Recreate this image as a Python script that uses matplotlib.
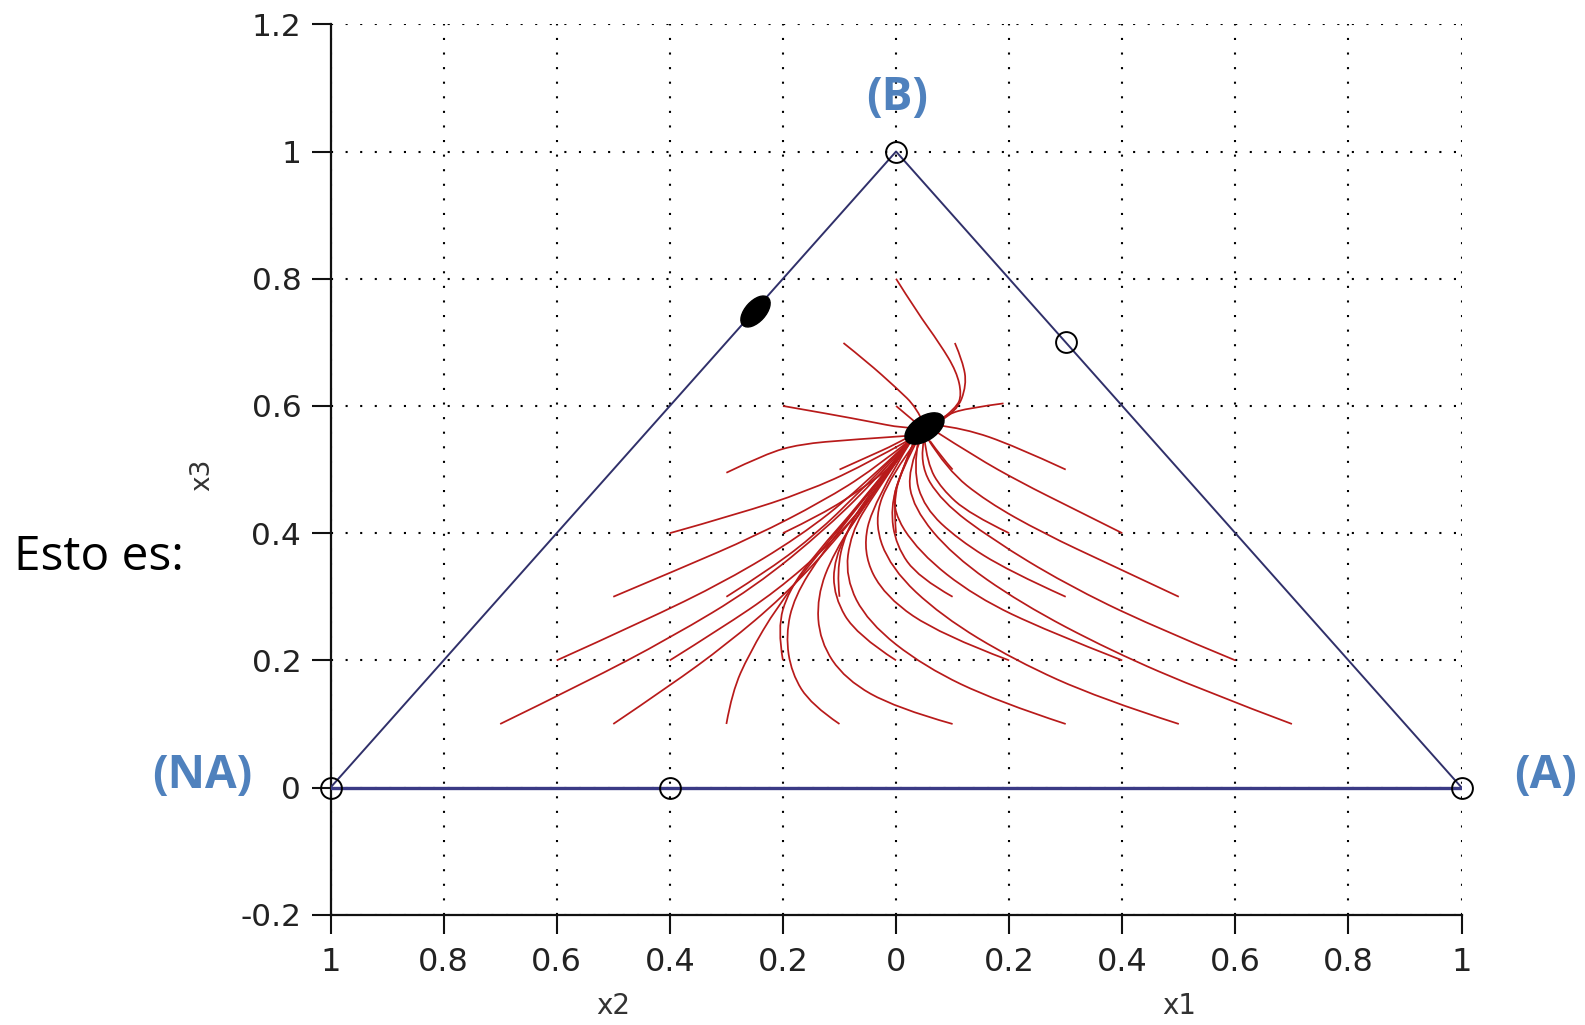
import matplotlib
matplotlib.use("Agg")
import matplotlib.pyplot as plt
from matplotlib import font_manager
from matplotlib.path import Path
from matplotlib.patches import PathPatch
from matplotlib.markers import MarkerStyle
from matplotlib.transforms import Affine2D

# ---------------- data ----------------
tri_x = [-1.0, 0.0, 1.0]
tri_y = [0.0, 1.0, 0.0]

unstable_x = [-1.0, -0.4, 1.0, 0.0, 0.3]
unstable_y = [0.0, 0.0, 0.0, 1.0, 0.7]

stable_center = (0.05, 0.565)
stable_edge = (-0.25, 0.75)

# trajectories grouped by starting row (x3 of start point)
traj_row01 = [
    [(-0.70, 0.10), (-0.55, 0.165), (-0.40, 0.235), (-0.25, 0.315), (-0.12, 0.41), (-0.03, 0.49), (0.03, 0.55)],
    [(-0.50, 0.10), (-0.40, 0.16), (-0.30, 0.225), (-0.20, 0.30), (-0.11, 0.385), (-0.03, 0.475), (0.03, 0.55)],
    [(-0.30, 0.10), (-0.29, 0.15), (-0.26, 0.21), (-0.21, 0.285), (-0.14, 0.365), (-0.06, 0.45), (0.03, 0.55)],
    [(-0.10, 0.10), (-0.15, 0.13), (-0.185, 0.18), (-0.195, 0.24), (-0.18, 0.30), (-0.13, 0.37), (-0.06, 0.45), (0.03, 0.55)],
    [(0.10, 0.10), (0.0, 0.125), (-0.09, 0.17), (-0.135, 0.23), (-0.14, 0.30), (-0.11, 0.37), (-0.05, 0.45), (0.03, 0.55)],
    [(0.30, 0.10), (0.18, 0.135), (0.05, 0.19), (-0.05, 0.26), (-0.09, 0.33), (-0.08, 0.40), (-0.04, 0.46), (0.03, 0.55)],
    [(0.50, 0.10), (0.36, 0.14), (0.21, 0.20), (0.08, 0.27), (-0.01, 0.345), (-0.04, 0.42), (-0.01, 0.49), (0.04, 0.55)],
    [(0.70, 0.10), (0.55, 0.15), (0.38, 0.215), (0.22, 0.29), (0.10, 0.365), (0.03, 0.44), (0.02, 0.50), (0.045, 0.55)],
]
traj_row02 = [
    [(-0.60, 0.20), (-0.45, 0.26), (-0.30, 0.325), (-0.17, 0.395), (-0.07, 0.465), (0.03, 0.55)],
    [(-0.40, 0.20), (-0.31, 0.25), (-0.21, 0.31), (-0.12, 0.38), (-0.04, 0.46), (0.03, 0.55)],
    [(-0.20, 0.20), (-0.21, 0.25), (-0.19, 0.31), (-0.14, 0.37), (-0.07, 0.44), (0.03, 0.55)],
    [(0.00, 0.20), (-0.07, 0.24), (-0.11, 0.30), (-0.11, 0.36), (-0.07, 0.43), (0.03, 0.55)],
    [(0.20, 0.20), (0.08, 0.24), (-0.02, 0.30), (-0.06, 0.37), (-0.04, 0.45), (0.03, 0.55)],
    [(0.40, 0.20), (0.27, 0.245), (0.14, 0.30), (0.04, 0.37), (-0.01, 0.44), (0.01, 0.50), (0.04, 0.55)],
    [(0.60, 0.20), (0.45, 0.255), (0.30, 0.32), (0.17, 0.39), (0.08, 0.45), (0.04, 0.51), (0.05, 0.55)],
]
traj_row03 = [
    [(-0.50, 0.30), (-0.38, 0.345), (-0.25, 0.395), (-0.13, 0.45), (-0.04, 0.50), (0.03, 0.55)],
    [(-0.30, 0.30), (-0.22, 0.345), (-0.14, 0.40), (-0.07, 0.46), (0.03, 0.55)],
    [(-0.10, 0.30), (-0.105, 0.34), (-0.09, 0.40), (-0.05, 0.46), (0.03, 0.55)],
    [(0.10, 0.30), (0.04, 0.33), (0.00, 0.38), (-0.01, 0.44), (0.01, 0.50), (0.035, 0.55)],
    [(0.30, 0.30), (0.20, 0.34), (0.11, 0.39), (0.05, 0.44), (0.03, 0.50), (0.04, 0.55)],
    [(0.50, 0.30), (0.38, 0.35), (0.26, 0.40), (0.16, 0.45), (0.09, 0.50), (0.055, 0.55)],
]
traj_row04 = [
    [(-0.40, 0.40), (-0.28, 0.43), (-0.16, 0.465), (-0.06, 0.505), (0.03, 0.55)],
    [(-0.20, 0.40), (-0.13, 0.43), (-0.06, 0.47), (0.00, 0.51), (0.03, 0.55)],
    [(0.00, 0.40), (-0.005, 0.45), (0.01, 0.50), (0.035, 0.55)],
    [(0.20, 0.40), (0.13, 0.43), (0.08, 0.47), (0.055, 0.51), (0.05, 0.55)],
    [(0.40, 0.40), (0.31, 0.44), (0.22, 0.48), (0.14, 0.52), (0.07, 0.56)],
]
traj_row05 = [
    [(-0.30, 0.495), (-0.23, 0.525), (-0.17, 0.54), (-0.08, 0.547), (0.02, 0.553)],
    [(-0.10, 0.50), (-0.05, 0.52), (0.00, 0.54), (0.03, 0.555)],
    [(0.10, 0.50), (0.08, 0.52), (0.06, 0.545)],
    [(0.30, 0.50), (0.21, 0.537), (0.12, 0.565), (0.07, 0.57)],
]
traj_row06 = [
    [(-0.20, 0.60), (-0.11, 0.586), (-0.05, 0.576), (0.013, 0.565), (0.04, 0.565)],
    [(0.00, 0.60), (0.02, 0.585), (0.04, 0.57)],
    [(0.19, 0.604), (0.13, 0.597), (0.09, 0.587), (0.07, 0.575)],
]
traj_row07 = [
    [(-0.093, 0.699), (-0.052, 0.67), (0.001, 0.628), (0.037, 0.597), (0.05, 0.57)],
    [(0.104, 0.699), (0.118, 0.67), (0.125, 0.633), (0.107, 0.59), (0.075, 0.575)],
]
traj_row08 = [
    [(0.00, 0.80), (0.036, 0.749), (0.078, 0.697), (0.107, 0.654), (0.116, 0.618), (0.107, 0.597), (0.075, 0.575)],
]

x_ticks = [-1.0, -0.8, -0.6, -0.4, -0.2, 0.0, 0.2, 0.4, 0.6, 0.8, 1.0]
x_ticklabels = ["1", "0.8", "0.6", "0.4", "0.2", "0", "0.2", "0.4", "0.6", "0.8", "1"]
y_ticks = [-0.2, 0.0, 0.2, 0.4, 0.6, 0.8, 1.0, 1.2]
y_ticklabels = ["-0.2", "0", "0.2", "0.4", "0.6", "0.8", "1", "1.2"]

# ---------------- fonts ----------------
names = {f.name for f in font_manager.fontManager.ttflist}
narrow = "Liberation Sans Narrow" if "Liberation Sans Narrow" in names else "DejaVu Sans"
plt.rcParams["font.family"] = ["DejaVu Sans"]

# ---------------- figure ----------------
W, H = 1585, 1025
fig = plt.figure(figsize=(W / 100, H / 100), dpi=100)
ax = fig.add_axes([330.5 / W, 1 - 914.8 / H, (1461.6 - 330.5) / W, (914.8 - 24.3) / H])
ax.set_xlim(-1, 1)
ax.set_ylim(-0.2, 1.2)

for s in ["top", "right"]:
    ax.spines[s].set_visible(False)
for s in ["left", "bottom"]:
    ax.spines[s].set_linewidth(1.6)
    ax.spines[s].set_color("#111111")

xfs = 25 if narrow != "DejaVu Sans" else 23
ax.set_xticks(x_ticks)
ax.set_xticklabels(x_ticklabels, family=[narrow, "DejaVu Sans"], fontsize=xfs, color="#222222")
ax.set_yticks(y_ticks)
ax.set_yticklabels(y_ticklabels, fontsize=22.5, color="#222222")
ax.tick_params(axis="x", direction="out", length=14, width=1.5, pad=9, color="#111111")
ax.tick_params(axis="y", direction="out", length=14, width=1.5, pad=7, color="#111111")

ax.grid(True, linestyle=(0, (1, 6)), color="black", linewidth=1.5)
ax.set_axisbelow(True)

# triangle edges
ax.plot([tri_x[0], tri_x[1], tri_x[2]], [tri_y[0], tri_y[1], tri_y[2]], color="#30306a", lw=1.4, zorder=3)
ax.plot([tri_x[0], tri_x[2]], [tri_y[0], tri_y[2]], color="#3a3a85", lw=2.4, zorder=3)


def smooth_path(pts):
    """Quadratic Bezier chain drawn by matplotlib, using the read points as control points."""
    if len(pts) < 3:
        return Path(pts, [Path.MOVETO] + [Path.LINETO] * (len(pts) - 1))
    verts = [pts[0]]
    codes = [Path.MOVETO]
    for i in range(1, len(pts) - 2):
        mid = ((pts[i][0] + pts[i + 1][0]) / 2, (pts[i][1] + pts[i + 1][1]) / 2)
        verts += [pts[i], mid]
        codes += [Path.CURVE3, Path.CURVE3]
    verts += [pts[-2], pts[-1]]
    codes += [Path.CURVE3, Path.CURVE3]
    return Path(verts, codes)


# trajectories
for row in [traj_row01, traj_row02, traj_row03, traj_row04, traj_row05, traj_row06, traj_row07, traj_row08]:
    for tr in row:
        ax.add_patch(PathPatch(smooth_path(tr), fill=False, edgecolor="#b81a1a", lw=1.25,
                               zorder=4, transform=ax.transData))

# unstable points (open circles)
ax.plot(unstable_x, unstable_y, linestyle="none", marker="o", markersize=15,
        markerfacecolor="none", markeredgecolor="black", markeredgewidth=1.4, zorder=6, clip_on=False)


# stable points (elongated black blobs)
def ellipse_marker(angle):
    p = Path.unit_circle()
    return MarkerStyle(Affine2D().scale(1.0, 0.55).rotate_deg(angle).transform_path(p))


ax.plot([stable_center[0]], [stable_center[1]], linestyle="none", marker=ellipse_marker(33),
        markersize=29, color="black", zorder=7)
ax.plot([stable_edge[0]], [stable_edge[1]], linestyle="none", marker=ellipse_marker(48),
        markersize=23, color="black", zorder=7)

# axis labels
ax.text(-0.5, -0.343, "x2", ha="center", va="center", fontsize=20, color="#333333",
        family=[narrow, "DejaVu Sans"])
ax.text(0.5, -0.343, "x1", ha="center", va="center", fontsize=20, color="#333333",
        family=[narrow, "DejaVu Sans"])
fig.text(202 / W, 1 - 475 / H, "x3", rotation=90, ha="center", va="center", fontsize=19, color="#333333")

# annotations
blue = "#4f81bd"
ann_font = ["Open Sans", "DejaVu Sans"]
fig.text(14 / W, 1 - 557 / H, "Esto es:", ha="left", va="center", fontsize=34.5, color="black", family=ann_font)
fig.text(202 / W, 1 - 775 / H, "(NA)", ha="center", va="center", fontsize=33, color=blue,
         fontweight="bold", family=ann_font)
fig.text(897.6 / W, 1 - 98 / H, "(B)", ha="center", va="center", fontsize=33, color=blue,
         fontweight="bold", family=ann_font)
fig.text(1545.5 / W, 1 - 775 / H, "(A)", ha="center", va="center", fontsize=33, color=blue,
         fontweight="bold", family=ann_font)

fig.savefig("out.png", dpi=100, facecolor="white")
